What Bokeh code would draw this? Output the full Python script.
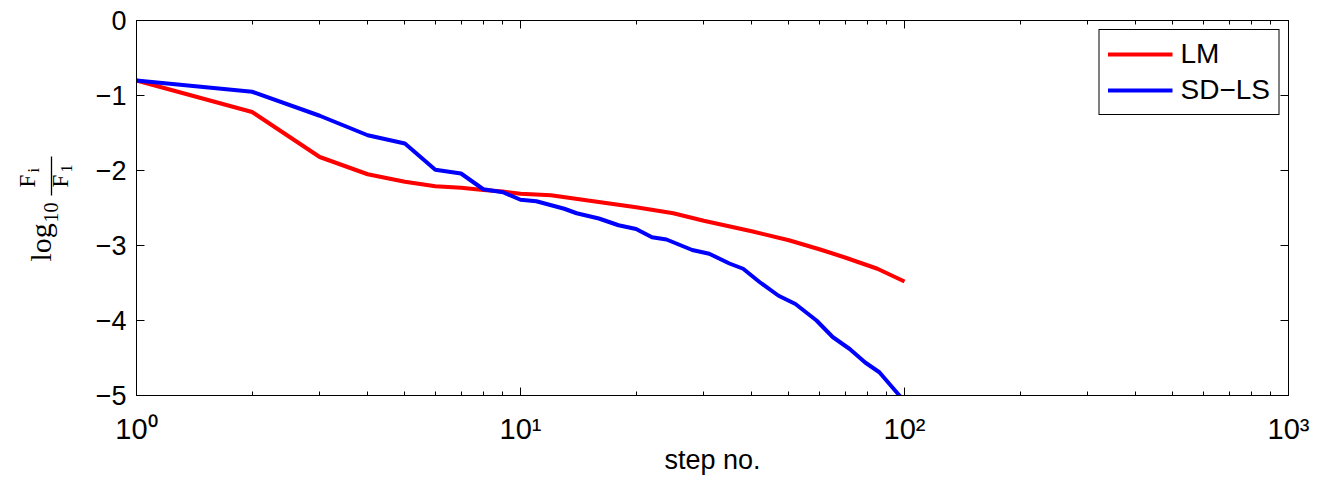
from math import pi
from bokeh.plotting import figure
from bokeh.layouts import row
from bokeh.core.properties import value
from bokeh.models import (LogAxis, LinearAxis, LogTicker, FixedTicker,
                          Legend, LegendItem, CustomJSTickFormatter, Range1d)
from bokeh.embed import file_html
from bokeh.resources import INLINE

# ---- data ----
lm_steps = [1, 2, 3, 4, 5, 6, 7, 8, 9, 10, 12, 15, 20, 25, 30, 40, 50, 60, 70, 85, 100]
lm_vals = [-0.80, -1.22, -1.82, -2.05, -2.15, -2.21, -2.23, -2.26, -2.28, -2.31, -2.33,
           -2.40, -2.49, -2.57, -2.67, -2.81, -2.93, -3.05, -3.16, -3.31, -3.48]

sd_steps = [1, 2, 3, 4, 5, 6, 7, 8, 9, 10, 11, 13, 14, 16, 18, 20, 22, 24, 28, 31, 35,
            38, 42, 47, 52, 59, 65, 72, 79, 86, 97, 100]
sd_vals = [-0.80, -0.95, -1.27, -1.53, -1.64, -1.99, -2.04, -2.25, -2.29, -2.39, -2.41,
           -2.51, -2.57, -2.64, -2.73, -2.78, -2.89, -2.92, -3.06, -3.11, -3.24, -3.31,
           -3.49, -3.67, -3.78, -4.00, -4.22, -4.38, -4.56, -4.69, -5.00, -5.08]

series_names = ["LM", "SD\u2212LS"]
x_ticks = [1, 10, 100, 1000]
x_tick_labels = ["10\u2070", "10\u00b9", "10\u00b2", "10\u00b3"]
y_ticks = [-5, -4, -3, -2, -1, 0]
y_tick_labels = ["\u22125", "\u22124", "\u22123", "\u22122", "\u22121", "0"]
x_label = "step no."
# y label: log10 (F_i / F_1), as text pieces
ylabel_parts = ["log", "10", "F", "i", "F", "1"]

SANS = "Liberation Sans"
SERIF = "Liberation Serif"
H = 477
LAB_W = 88
FRAME_TOP, FRAME_BOTTOM = 20, 395

# ---------- narrow figure that carries the y-axis label ----------
lab = figure(width=LAB_W, height=H, x_range=Range1d(0, LAB_W),
             y_range=Range1d(H - FRAME_BOTTOM, H - FRAME_TOP),
             output_backend="svg", toolbar_location=None, title=None,
             x_axis_location=None, y_axis_location=None,
             min_border=0, min_border_left=0, min_border_right=0,
             min_border_top=0, min_border_bottom=0)
lab.grid.visible = False
lab.outline_line_color = None
lab.background_fill_color = "white"
lab.border_fill_color = "white"

def piece(x, y, text, size):
    lab.text(x=[x], y=[H - y], text=[text], angle=pi / 2,
             text_font=value(SERIF), text_font_size=value(size),
             text_align="left", text_baseline="alphabetic", text_color="black")

piece(40, 261, ylabel_parts[0], "30px")    # log
piece(50, 222, ylabel_parts[1], "20px")    # 10
piece(27, 187, ylabel_parts[2], "23px")    # F (numerator)
piece(33, 172, ylabel_parts[3], "16px")    # i
piece(60, 187, ylabel_parts[4], "23px")    # F (denominator)
piece(66, 172, ylabel_parts[5], "16px")    # 1
lab.segment(x0=[51], y0=[H - 156], x1=[51], y1=[H - 195],
            line_color="black", line_width=1.3)

# ---------- main chart ----------
p = figure(width=1320 - LAB_W, height=H, x_axis_type="log",
           x_range=Range1d(1, 1000), y_range=Range1d(-5, 0),
           output_backend="svg", toolbar_location=None, title=None,
           min_border_left=136 - LAB_W, min_border_right=32,
           min_border_top=FRAME_TOP, min_border_bottom=H - FRAME_BOTTOM)
p.grid.visible = False
p.outline_line_color = "black"
p.outline_line_width = 1
p.background_fill_color = "white"
p.border_fill_color = "white"

r1 = p.line(lm_steps, lm_vals, line_color="#ff0000", line_width=4)
r2 = p.line(sd_steps, sd_vals, line_color="#0000ff", line_width=4)

def style_axis(ax):
    ax.axis_line_color = "black"
    ax.major_tick_line_color = "black"
    ax.minor_tick_line_color = "black"
    ax.major_tick_in = 8
    ax.major_tick_out = 0
    ax.minor_tick_in = 4
    ax.minor_tick_out = 0

xa = p.xaxis[0]
xa.ticker = LogTicker(num_minor_ticks=10)
xa.major_label_overrides = dict(zip(x_ticks, x_tick_labels))
style_axis(xa)
xa.major_label_text_font = SANS
xa.major_label_text_font_size = "29px"
xa.major_label_text_color = "black"
xa.major_label_standoff = 17
xa.axis_label = x_label
xa.axis_label_text_font = SANS
xa.axis_label_text_font_size = "27px"
xa.axis_label_text_font_style = "normal"
xa.axis_label_text_color = "black"
xa.axis_label_standoff = -3

ya = p.yaxis[0]
ya.ticker = FixedTicker(ticks=y_ticks)
ya.major_label_overrides = dict(zip(y_ticks, y_tick_labels))
style_axis(ya)
ya.minor_tick_in = 0
ya.major_label_text_font = SANS
ya.major_label_text_font_size = "27px"
ya.major_label_text_color = "black"
ya.major_label_standoff = 10

blank = "return ''"
top = LogAxis(ticker=LogTicker(num_minor_ticks=10), formatter=CustomJSTickFormatter(code=blank))
style_axis(top)
top.major_label_text_font_size = "1px"
top.major_label_standoff = 0
p.add_layout(top, "above")

right = LinearAxis(ticker=FixedTicker(ticks=y_ticks), formatter=CustomJSTickFormatter(code=blank))
style_axis(right)
right.minor_tick_in = 0
right.major_label_text_font_size = "1px"
right.major_label_standoff = 0
p.add_layout(right, "right")

legend = Legend(items=[LegendItem(label=series_names[0], renderers=[r1]),
                       LegendItem(label=series_names[1], renderers=[r2])],
                location="top_right")
legend.label_text_font = SANS
legend.label_text_font_size = "28px"
legend.label_text_color = "black"
legend.glyph_width = 65
legend.label_standoff = 8
legend.padding = 8
legend.spacing = 4
legend.margin = 9
legend.border_line_color = "black"
legend.border_line_width = 1
legend.border_line_alpha = 1
legend.background_fill_color = "white"
legend.background_fill_alpha = 1
p.add_layout(legend)

layout = row(lab, p)
open("out.html", "w").write(file_html(layout, INLINE))
